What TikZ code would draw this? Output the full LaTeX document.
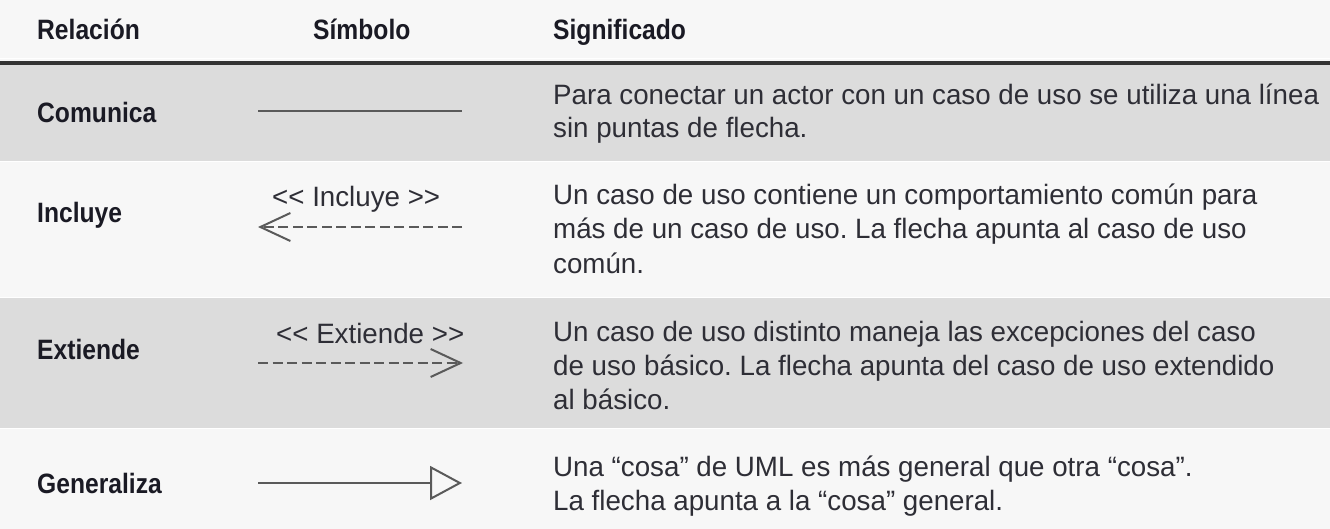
\documentclass[tikz,border=0pt]{standalone}
\usepackage{fontspec}
\setmainfont{Liberation Sans}[FakeStretch=0.99]
\newfontfamily\hdfont{Liberation Sans}[FakeStretch=0.88]
\usetikzlibrary{arrows.meta}
\frenchspacing
\definecolor{bglight}{HTML}{F7F7F7}
\definecolor{bggray}{HTML}{DCDCDC}
\definecolor{txt}{HTML}{2E2E36}
\definecolor{hdtxt}{HTML}{1A1A24}
\definecolor{linecol}{HTML}{5A5A5A}
\begin{document}
\begin{tikzpicture}[x=1pt,y=-1pt,
  body/.style={anchor=base west,inner sep=0pt,text=txt,font=\fontsize{28}{33}\selectfont},
  head/.style={anchor=base west,inner sep=0pt,text=hdtxt,font=\hdfont\bfseries\fontsize{28}{33}\selectfont},
  lbl/.style={anchor=base west,inner sep=0pt,text=txt,font=\fontsize{28}{33}\selectfont},
  conn/.style={draw=linecol,line width=2.2pt},
  dashconn/.style={conn,dash pattern=on 10pt off 4.5pt},
  barb/.style={-{Straight Barb[length=30pt,width=28pt,line width=2pt]}},
  gen/.style={-{Triangle[open,length=32pt,width=34pt,line width=2pt,fill=bglight]}}
]
\useasboundingbox (0,0) rectangle (1330,529);
% backgrounds
\fill[bglight] (0,0) rectangle (1330,529);
\fill[bggray] (0,65) rectangle (1330,161);
\fill[bggray] (0,298) rectangle (1330,428);
\draw[white,line width=1.5pt] (0,58.5) -- (1330,58.5);
\draw[black!80,line width=3.5pt] (0,62.8) -- (1330,62.8);
\draw[white,line width=1pt] (0,161.5) -- (1330,161.5);
\draw[white,line width=1pt] (0,297.5) -- (1330,297.5);
\draw[white,line width=1pt] (0,428.5) -- (1330,428.5);

% header
\node[head] (h1) at (37,40) {Relación};
\node[head] (h2) at (313,40) {Símbolo};
\node[head] (h3) at (553,40) {Significado};

% column 1
\node[head] (r1) at (37,123) {Comunica};
\node[head] (r2) at (37,223) {Incluye};
\node[head] (r3) at (37,359) {Extiende};
\node[head] (r4) at (37,493) {Generaliza};

% column 3
\node[body] (t1a) at (553,105) {Para conectar un actor con un caso de uso se utiliza una línea};
\node[body] (t1b) at (553,138) {sin puntas de flecha.};
\node[body] (t2a) at (553,205) {Un caso de uso contiene un comportamiento común para};
\node[body] (t2b) at (553,239) {más de un caso de uso. La flecha apunta al caso de uso};
\node[body] (t2c) at (553,273) {común.};
\node[body] (t3a) at (553,341) {Un caso de uso distinto maneja las excepciones del caso};
\node[body] (t3b) at (553,375) {de uso básico. La flecha apunta del caso de uso extendido};
\node[body] (t3c) at (553,409) {al básico.};
\node[body] (t4a) at (553,476) {Una “cosa” de UML es más general que otra “cosa”.};
\node[body] (t4b) at (553,510) {La flecha apunta a la “cosa” general.};

% symbols
\coordinate (c1s) at (258,111);
\coordinate (c1e) at (462,111);
\draw[conn] (c1s) -- (c1e);

\node[lbl] (l2) at (272,207) {{<}{<} Incluye {>}{>}};
\coordinate (c2s) at (462,227);
\coordinate (c2e) at (258,227);
\draw[dashconn,barb] (c2s) -- (c2e);

\node[lbl] (l3) at (276,343) {{<}{<} Extiende {>}{>}};
\coordinate (c3s) at (258,363);
\coordinate (c3e) at (463,363);
\draw[dashconn,barb] (c3s) -- (c3e);

\coordinate (c4s) at (258,483);
\coordinate (c4e) at (462,483);
\draw[conn,gen] (c4s) -- (c4e);
\end{tikzpicture}
\end{document}
